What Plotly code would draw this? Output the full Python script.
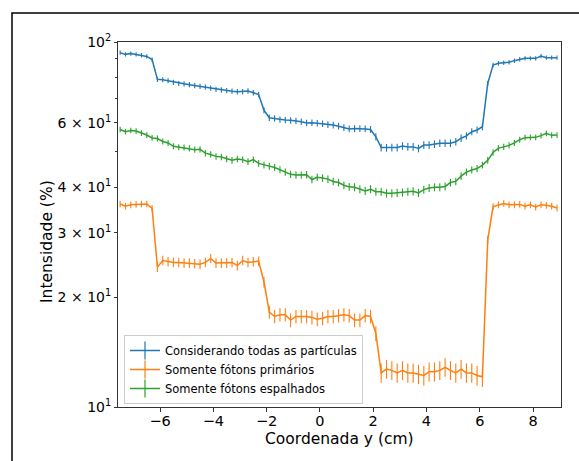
import plotly.graph_objects as go

# x grid (cm)
coord_y = [round(-7.5 + 0.2 * i, 1) for i in range(83)]

total = [93.5, 92.5, 93.0, 92.5, 92.0, 91.3,
         89.5,
         79.0, 78.8, 78.3, 77.5, 77.0, 76.8, 76.4, 76.0, 75.6, 75.2, 74.8, 74.2, 73.9, 73.6, 73.3, 73.1, 73.1, 73.4, 72.6, 71.8,
         65.0, 62.0,
         61.7, 61.3, 61.1, 61.0, 60.8, 60.5, 60.0, 60.1, 59.9, 59.7, 59.4, 59.2, 58.8, 58.3, 57.8,
         57.9, 57.9, 57.8, 57.6,
         55.0,
         51.4, 51.3, 51.4, 51.4, 51.9, 51.6, 51.6, 51.1, 52.2, 52.2, 52.5, 52.8, 52.8, 52.8, 53.3, 54.5, 55.3, 56.8, 57.4, 58.6,
         77.0, 86.5,
         87.4, 87.8, 88.0, 88.9, 89.7, 90.2, 90.2, 90.2, 91.5, 90.6, 90.6, 90.6]

primarios = [36.0, 35.5, 35.8, 35.9, 36.0, 36.0,
             35.0,
             24.2, 25.2, 25.0, 24.9, 24.9, 24.8, 24.8, 24.7, 24.6, 24.9, 25.5, 24.8, 24.8, 24.8, 24.9, 24.4, 25.2, 24.9, 25.0, 25.1,
             22.0, 18.2,
             17.7, 17.9, 17.9, 17.3, 17.7, 17.7, 17.7, 17.6, 17.4, 17.5, 17.7, 17.7, 17.8, 17.9, 17.8, 17.3, 17.3, 17.8, 17.7,
             15.9, 12.4,
             12.7, 12.6, 12.4, 12.6, 12.4, 12.4, 12.3, 12.2, 12.5, 12.5, 12.6, 12.85, 12.6, 12.4, 12.7, 12.4, 12.4, 12.2, 12.1,
             28.7, 35.4,
             35.8, 36.1, 35.8, 35.8, 35.9, 35.5, 35.8, 35.3, 35.8, 35.7, 35.5, 35.1]

espalhados = [57.6, 56.8, 57.2, 57.0, 56.3, 55.6, 54.6, 54.4, 53.4, 52.9,
              51.8, 51.5, 51.4, 51.1, 50.7, 50.8, 49.6, 49.2, 48.6, 48.4,
              47.8, 47.4, 47.8, 47.6, 47.0, 47.6, 46.5, 46.0, 45.7, 45.3,
              44.7, 44.0, 43.4, 43.2, 43.2, 43.3, 42.0, 42.6, 42.4, 42.1,
              41.5, 41.2, 40.5, 40.1, 40.0, 39.5, 39.1, 39.5, 38.9, 38.9,
              38.5, 38.5, 38.6, 38.7, 38.9, 39.0, 38.6, 39.4, 39.8, 40.0,
              40.0, 40.2, 41.2, 41.5, 42.9, 44.0, 44.6, 45.0, 46.0, 47.4,
              49.8, 51.2, 51.6, 52.1, 52.9, 54.0, 54.7, 54.8, 54.8, 55.4,
              56.2, 55.5, 55.6]

err_total = 1.25
err_primarios = 0.75
err_espalhados = 1.0

series_names = ["Considerando todas as partículas", "Somente fótons primários", "Somente fótons espalhados"]
colors = ["#1f77b4", "#ff7f0e", "#2ca02c"]

ytick_vals = [10, 20, 30, 40, 60, 100]
ytick_text = ["10<sup>1</sup>", "2 × 10<sup>1</sup>", "3 × 10<sup>1</sup>", "4 × 10<sup>1</sup>",
              "6 × 10<sup>1</sup>", "10<sup>2</sup>"]
yminor_vals = [50, 70, 80, 90]
xtick_vals = [-6, -4, -2, 0, 2, 4, 6, 8]
xtick_text = ["−6", "−4", "−2", "0", "2", "4", "6", "8"]

fig = go.Figure()
for vals, err, name, col in [(total, err_total, series_names[0], colors[0]),
                             (primarios, err_primarios, series_names[1], colors[1]),
                             (espalhados, err_espalhados, series_names[2], colors[2])]:
    fig.add_trace(go.Scatter(
        x=coord_y, y=vals, mode="lines", name=name, showlegend=False,
        line=dict(color=col, width=1.5),
        error_y=dict(type="constant", value=err, color=col, thickness=1.1, width=0),
    ))
for name, col in zip(series_names, colors):
    fig.add_trace(go.Scatter(
        x=[None], y=[None], mode="lines+markers", name=name,
        line=dict(color=col, width=1.5),
        marker=dict(symbol="line-ns", size=13, line=dict(color=col, width=1.2)),
    ))

L, R, T, B = 118, 18, 42, 54
W, H = 579, 461
pw, ph = W - L - R, H - T - B

fig.update_layout(
    width=W, height=H,
    margin=dict(l=L, r=R, t=T, b=B),
    paper_bgcolor="white", plot_bgcolor="white",
    font=dict(family="DejaVu Sans", color="black", size=14),
    xaxis=dict(range=[-7.58, 9.05], tickmode="array", tickvals=xtick_vals, ticktext=xtick_text,
               ticks="outside", ticklen=4, tickwidth=1, tickcolor="#333", ticklabelstandoff=-3,
               showline=True, linecolor="#333", linewidth=1, mirror=True,
               showgrid=False, zeroline=False, tickfont=dict(size=14.5)),
    yaxis=dict(type="log", range=[1, 2], tickmode="array", tickvals=ytick_vals, ticktext=ytick_text,
               ticks="outside", ticklen=3, tickwidth=1, tickcolor="#333",
               showline=True, linecolor="#333", linewidth=1, mirror=True,
               showgrid=False, zeroline=False, tickfont=dict(size=14),
               minor=dict(tickmode="array", tickvals=yminor_vals, ticks="outside", ticklen=2,
                          tickcolor="#333", showgrid=False)),
    legend=dict(x=(124 - L) / pw, y=(H - B - 404) / ph, xanchor="left", yanchor="bottom",
                bgcolor="rgba(255,255,255,0.8)", bordercolor="#cccccc", borderwidth=1,
                font=dict(size=11.5), tracegroupgap=0),
    annotations=[
        dict(text="Coordenada y (cm)", xref="paper", yref="paper", x=0.5, y=(H - B - 439) / ph,
             showarrow=False, xanchor="center", yanchor="middle", font=dict(size=15.5)),
        dict(text="Intensidade (%)", xref="paper", yref="paper", x=(47 - L) / pw, y=(H - B - 242) / ph,
             showarrow=False, xanchor="center", yanchor="middle", textangle=-90, font=dict(size=15.5)),
    ],
    shapes=[dict(type="rect", xref="paper", yref="paper",
                 x0=(12 - L) / pw, x1=(W + 20 - L) / pw,
                 y0=(H - B - (H + 20)) / ph, y1=(H - B - 13) / ph,
                 line=dict(color="black", width=1.5), fillcolor="rgba(0,0,0,0)")],
)

fig.write_html("out.html")
